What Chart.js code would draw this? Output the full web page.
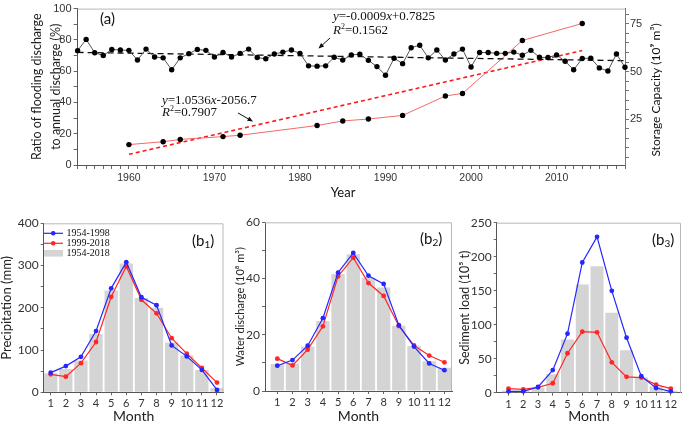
<!DOCTYPE html>
<html><head><meta charset="utf-8">
<script src="https://cdn.jsdelivr.net/npm/chart.js@4"></script>
<style>
html,body{margin:0;padding:0;background:#fff;width:685px;height:422px;overflow:hidden;position:relative}
.box{position:absolute}
canvas{display:block}
</style></head><body>
<div class="box" style="left:0;top:0"><canvas id="ca" width="685" height="200"></canvas></div>
<div class="box" style="left:0;top:200px"><canvas id="cb1" width="228" height="222"></canvas></div>
<div class="box" style="left:228px;top:200px"><canvas id="cb2" width="228" height="222"></canvas></div>
<div class="box" style="left:456px;top:200px"><canvas id="cb3" width="229" height="222"></canvas></div>
<script>
// ---------- Panel (a) data ----------
const years = [1954,1955,1956,1957,1958,1959,1960,1961,1962,1963,1964,1965,1966,1967,1968,1969,1970,1971,1972,1973,1974,1975,1976,1977,1978,1979,1980,1981,1982,1983,1984,1985,1986,1987,1988,1989,1990,1991,1992,1993,1994,1995,1996,1997,1998,1999,2000,2001,2002,2003,2004,2005,2006,2007,2008,2009,2010,2011,2012,2013,2014,2015,2016,2017,2018];
const floodRatio = [73.1,80.3,71.8,70.0,73.9,73.5,73.3,67.1,74.1,69.1,68.5,60.9,68.5,71.2,73.9,73.3,69.1,72.0,69.1,71.4,74.1,68.7,67.9,71.0,72.2,73.5,71.4,63.4,63.2,63.4,68.9,67.1,70.4,70.8,66.9,62.9,57.4,68.3,64.8,75.0,76.6,68.5,73.5,67.1,71.0,74.1,62.7,71.9,71.9,71.4,71.4,72.2,70.2,73.3,68.9,68.7,70.4,66.3,60.9,68.1,68.3,62.1,60.1,71.0,62.5];
const ratioTrendYears = [1954, 2018];
const ratioTrendValues = [72.0, 66.7];
const storageYears = [1960,1964,1966,1971,1973,1982,1985,1988,1992,1997,1999,2006,2013];
const storageCapacity = [11.7,13.2,14.4,15.9,16.6,21.7,24.1,25.1,27.0,37.2,38.5,66.3,75.2];
const storageTrendYears = [1960, 2013];
const storageTrendValues = [6.6, 61.0];
const yearTickLabels = [1960,1970,1980,1990,2000,2010];
const ratioTicks = [0,10,20,30,40,50,60,70,80,90,100];
const ratioTickLabels = [0,20,40,60,80,100];
const storageTicks = [5,10,15,20,25,30,35,40,45,50,55,60,65,70,75,80];
const storageTickLabels = [25,50,75];

// ---------- Panels (b) data ----------
const months = [1,2,3,4,5,6,7,8,9,10,11,12];
const precipAll   = [45,55,75,138,241,305,223,200,118,87,53,10];
const precipEarly = [46.5,62,84,145,246,308,225,206,111,85,53,5.5];
const precipLate  = [42.5,37,69,119,226,298,219,187,128,91.5,57.6,23];
const dischargeAll   = [9.6,9.8,15.8,24.9,41.6,48.6,40.3,36.8,23.2,16.0,10.6,8.3];
const dischargeEarly = [9.0,11.0,16.1,25.9,42.1,49.1,41.0,38.1,23.4,15.8,9.8,7.4];
const dischargeLate  = [11.5,9.1,14.7,23.0,40.8,47.4,38.4,33.8,23.1,16.2,12.6,10.2];
const sedimentAll   = [3,2.5,7,27.3,78.4,159,186,117.6,62.5,22.8,9.4,3];
const sedimentEarly = [2,2,8.4,33.2,86.8,191.5,229.2,149.8,80.9,24.3,6.9,2];
const sedimentLate  = [6,5,7.9,13.9,58,89.8,88.8,44.6,23.3,22.3,11.9,6];
const seriesNames = ['1954-1998','1999-2018','1954-2018'];

const BLUE = '#2626ff', RED = '#ff2626', GRAY = '#d4d4d4';
const toXY = (xs, ys) => xs.map((x, i) => ({x: x, y: ys[i]}));
const tickObjs = arr => arr.map(v => ({value: v}));
const pickLabel = (list, v) => list.some(t => Math.abs(t - v) < 1e-6) ? String(Math.round(v)) : '';

function drawRich(ctx, x, y, parts) {
  let cx = x;
  for (const p of parts) {
    ctx.font = p[1];
    ctx.fillText(p[0], cx, y - (p[2] || 0));
    cx += ctx.measureText(p[0]).width;
  }
}
function arrow(ctx, x1, y1, x2, y2) {
  const ang = Math.atan2(y2 - y1, x2 - x1), h = 6;
  ctx.beginPath(); ctx.moveTo(x1, y1); ctx.lineTo(x2 - Math.cos(ang) * 3, y2 - Math.sin(ang) * 3); ctx.stroke();
  ctx.beginPath();
  ctx.moveTo(x2, y2);
  ctx.lineTo(x2 - h * Math.cos(ang - 0.4), y2 - h * Math.sin(ang - 0.4));
  ctx.lineTo(x2 - h * Math.cos(ang + 0.4), y2 - h * Math.sin(ang + 0.4));
  ctx.closePath(); ctx.fill();
}

const SERIF = '"Liberation Serif", "Times New Roman", serif';
const annotA = {
  id: 'annotA',
  afterDraw(chart) {
    const ctx = chart.ctx, a = chart.chartArea;
    ctx.save();
    ctx.strokeStyle = '#b8b8b8'; ctx.lineWidth = 1;
    ctx.beginPath(); ctx.moveTo(a.left, a.top + 0.5); ctx.lineTo(a.right, a.top + 0.5); ctx.stroke();
    ctx.fillStyle = '#111';
    ctx.textBaseline = 'middle';
    ctx.font = '15px Lato';
    ctx.fillText('(a)', 100, 19);
    ctx.textBaseline = 'alphabetic';
    const it = 'italic 13px ' + SERIF, nm = '13px ' + SERIF, sm = '8px ' + SERIF;
    drawRich(ctx, 333, 20, [['y', it], ['=-0.0009', nm], ['x', it], ['+0.7825', nm]]);
    drawRich(ctx, 333, 33.5, [['R', it], ['2', sm, 5], ['=0.1562', nm]]);
    drawRich(ctx, 162, 104, [['y', it], ['=1.0536', nm], ['x', it], ['-2056.7', nm]]);
    drawRich(ctx, 162, 115.5, [['R', it], ['2', sm, 5], ['=0.7907', nm]]);
    ctx.strokeStyle = '#111'; ctx.lineWidth = 1;
    arrow(ctx, 330, 38, 318.5, 48.5);
    arrow(ctx, 238, 113, 253, 121.5);
    ctx.textAlign = 'center'; ctx.textBaseline = 'middle';
    ctx.font = '13px Lato';
    ctx.fillText('Year', 343, 193);
    ctx.translate(656, 90); ctx.rotate(-Math.PI / 2);
    ctx.font = '12px Lato';
    ctx.fillText('Storage Capacity (10\u2079 m\u00b3)', 0, 0);
    ctx.restore();
  }
};

new Chart(document.getElementById('ca'), {
  type: 'line',
  data: {datasets: [
    {data: toXY(years, floodRatio), yAxisID: 'y', borderColor: '#555', borderWidth: 1, pointRadius: 2.7, pointBackgroundColor: '#000', pointBorderWidth: 0, tension: 0, clip: 6},
    {data: toXY(ratioTrendYears, ratioTrendValues), yAxisID: 'y', borderColor: '#111', borderWidth: 1.3, borderDash: [6, 4], pointRadius: 0, clip: 6},
    {data: toXY(storageYears, storageCapacity), yAxisID: 'y1', borderColor: '#f26a6a', borderWidth: 1, pointRadius: 2.7, pointBackgroundColor: '#000', pointBorderWidth: 0, tension: 0, clip: 6},
    {data: toXY(storageTrendYears, storageTrendValues), yAxisID: 'y1', borderColor: '#ff1a1a', borderWidth: 1.6, borderDash: [4, 3], pointRadius: 0, clip: 6}
  ]},
  options: {
    responsive: false, animation: false, events: [],
    layout: {padding: {top: 4, left: 0, right: 0, bottom: 0}},
    plugins: {legend: {display: false}, tooltip: {enabled: false}},
    scales: {
      x: {type: 'linear', min: 1954, max: 2018,
        afterFit: s => { s.height = 35; },
        afterBuildTicks: s => { s.ticks = tickObjs(years); },
        ticks: {autoSkip: false, maxRotation: 0, padding: 3, color: '#333', font: {family: 'Liberation Sans', size: 10.5},
          callback: v => pickLabel(yearTickLabels, v)},
        grid: {drawOnChartArea: false, tickLength: 4, color: '#666'}, border: {color: '#555'}},
      y: {position: 'left', min: 0, max: 100,
        afterFit: s => { s.width = 77.6; },
        afterBuildTicks: s => { s.ticks = tickObjs(ratioTicks); },
        ticks: {autoSkip: false, padding: 2, color: '#333', font: {family: 'Liberation Sans', size: 11},
          callback: v => pickLabel(ratioTickLabels, v)},
        grid: {drawOnChartArea: false, tickLength: 4, color: '#666'}, border: {color: '#555'},
        title: {display: true, text: ['Ratio of flooding discharge', 'to annual discharge (%)'], color: '#222',
          font: {family: 'Lato', size: 12.5, lineHeight: 1.5}, padding: {top: 28, bottom: 0}}},
      y1: {position: 'right', min: 1, max: 83,
        afterFit: s => { s.width = 60; },
        afterBuildTicks: s => { s.ticks = tickObjs(storageTicks); },
        ticks: {autoSkip: false, padding: 1, color: '#333', font: {family: 'Liberation Sans', size: 11},
          callback: v => pickLabel(storageTickLabels, v)},
        grid: {drawOnChartArea: false, tickLength: 4, color: '#777'}, border: {color: '#777'}}
    }
  },
  plugins: [annotA]
});

function makePanel(id, g) {
  const deco = {
    id: 'deco' + id,
    afterDraw(chart) {
      const ctx = chart.ctx, a = chart.chartArea;
      ctx.save();
      ctx.strokeStyle = '#b8b8b8'; ctx.lineWidth = 1;
      ctx.beginPath();
      ctx.moveTo(a.left, a.top + 0.5); ctx.lineTo(a.right - 0.5, a.top + 0.5); ctx.lineTo(a.right - 0.5, a.bottom);
      ctx.stroke();
      ctx.fillStyle = '#111'; ctx.textBaseline = 'middle';
      drawRich(ctx, g.labX, g.labY, [['(b', '15px Lato'], [g.sub, '10px Lato', -4], [')', '15px Lato']]);
      if (g.legend) {
        const ys = [33.3, 43.3, 53.3], cols = [BLUE, RED, GRAY];
        for (let i = 0; i < 3; i++) {
          if (i < 2) {
            ctx.strokeStyle = cols[i]; ctx.lineWidth = 1.2;
            ctx.beginPath(); ctx.moveTo(43.5, ys[i]); ctx.lineTo(63, ys[i]); ctx.stroke();
            ctx.fillStyle = cols[i];
            ctx.beginPath(); ctx.arc(53.2, ys[i], 2.3, 0, Math.PI * 2); ctx.fill();
          } else {
            ctx.fillStyle = GRAY; ctx.fillRect(44, ys[i] - 3.3, 19, 6.6);
          }
          ctx.fillStyle = '#111'; ctx.font = '10px ' + SERIF;
          ctx.fillText(seriesNames[i], 66.5, ys[i] + 0.5);
        }
      }
      ctx.restore();
    }
  };
  return new Chart(document.getElementById(id), {
    type: 'bar',
    data: {datasets: [
      {type: 'line', label: seriesNames[0], data: toXY(months, g.early), borderColor: BLUE, backgroundColor: BLUE, borderWidth: 1.2, pointRadius: 2.4, pointBorderWidth: 0, pointBackgroundColor: BLUE, tension: 0, clip: 6},
      {type: 'line', label: seriesNames[1], data: toXY(months, g.late), borderColor: RED, backgroundColor: RED, borderWidth: 1.2, pointRadius: 2.4, pointBorderWidth: 0, pointBackgroundColor: RED, tension: 0, clip: 6},
      {type: 'bar', label: seriesNames[2], data: toXY(months, g.all), backgroundColor: GRAY, barPercentage: 0.88, categoryPercentage: 1}
    ]},
    options: {
      responsive: false, animation: false, events: [],
      layout: {padding: {top: g.top, right: g.right, left: 0, bottom: 0}},
      plugins: {legend: {display: false}, tooltip: {enabled: false}},
      scales: {
        x: {type: 'linear', min: g.xmin, max: g.xmax, offset: false,
          afterFit: s => { s.height = g.xh; },
          afterBuildTicks: s => { s.ticks = tickObjs(months); },
          ticks: {autoSkip: false, maxRotation: 0, padding: 2, color: '#333', font: {family: 'Lato', size: 11}},
          grid: {drawOnChartArea: false, offset: false, tickLength: 3, color: '#666'}, border: {color: '#555'},
          title: {display: true, text: 'Month', color: '#222', font: {family: 'Lato', size: 14, lineHeight: 0.8}, padding: {top: 0, bottom: 0}}},
        y: {min: 0, max: g.ymax,
          afterFit: s => { s.width = g.yw; },
          afterBuildTicks: s => { s.ticks = tickObjs(g.ticks); },
          ticks: {autoSkip: false, padding: 2, color: '#333', font: {family: 'Lato', size: 12},
            callback: v => pickLabel(g.labels, v)},
          grid: {drawOnChartArea: false, tickLength: 3, color: '#666'}, border: {color: '#555'},
          title: {display: true, text: g.title, color: '#222', font: {family: 'Lato', size: g.tsize, lineHeight: 1}, padding: {top: g.tpad, bottom: 0}}}
      }
    },
    plugins: [deco]
  });
}

makePanel('cb1', {all: precipAll, early: precipEarly, late: precipLate, ymax: 400,
  ticks: [0,50,100,150,200,250,300,350,400], labels: [0,100,200,300,400],
  title: 'Precipitation (mm)', tsize: 13, tpad: 0.5, yw: 43.7, top: 23.3, right: 4.5, xh: 29.7,
  xmin: 0.537, xmax: 12.43, labX: 192, labY: 41, sub: '1', legend: true});
makePanel('cb2', {all: dischargeAll, early: dischargeEarly, late: dischargeLate, ymax: 60,
  ticks: [0,10,20,30,40,50,60], labels: [0,20,40,60],
  title: 'Water discharge (10\u2078 m\u00b3)', tsize: 11, tpad: 6.5, yw: 37, top: 22.3, right: 4, xh: 31,
  xmin: 0.19, xmax: 12.5, labX: 192, labY: 39, sub: '2', legend: false});
makePanel('cb3', {all: sedimentAll, early: sedimentEarly, late: sedimentLate, ymax: 250,
  ticks: [0,25,50,75,100,125,150,175,200,225,250], labels: [0,50,100,150,200,250],
  title: 'Sediment load (10\u2075 t)', tsize: 12.5, tpad: 2.75, yw: 40.7, top: 22.7, right: 1, xh: 29.3,
  xmin: 0.2, xmax: 12.69, labX: 196, labY: 40, sub: '3', legend: false});
</script>
</body></html>
